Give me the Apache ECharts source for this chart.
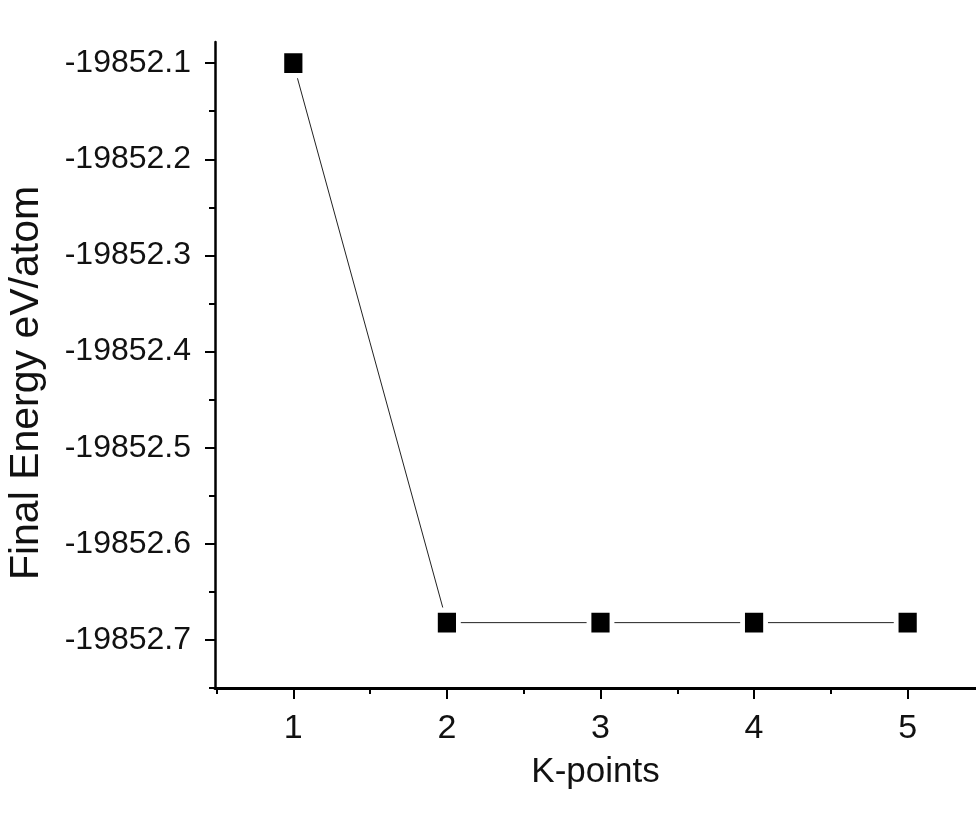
<!DOCTYPE html>
<html>
<head>
<meta charset="utf-8">
<script src="https://cdn.jsdelivr.net/npm/echarts@6/dist/echarts.min.js"></script>
<style>html,body{margin:0;padding:0;background:#fff}#c{width:976px;height:814px}</style>
</head>
<body>
<div id="c"></div>
<script>
var kPoints = [1, 2, 3, 4, 5];
var finalEnergy = [-19852.1, -19852.682, -19852.682, -19852.682, -19852.682];
var yTickValues = [-19852.7, -19852.6, -19852.5, -19852.4, -19852.3, -19852.2, -19852.1];
var yMinorValues = [-19852.75, -19852.65, -19852.55, -19852.45, -19852.35, -19852.25, -19852.15];
var xTickValues = [1, 2, 3, 4, 5];
var xMinorValues = [0.5, 1.5, 2.5, 3.5, 4.5];

var REG = '"Liberation Sans", Arial, sans-serif';
var yMin = -19852.75, yMax = -19852.078, xMin = 0.49, xMax = 5.445;

var chart = echarts.init(document.getElementById('c'));
chart.setOption({
  backgroundColor: '#fff',
  animation: false,
  grid: {left: 215, right: 0, top: 42, bottom: 126, containLabel: false, outerBoundsMode: 'none'},
  xAxis: [{
    type: 'value', min: xMin, max: xMax, position: 'bottom',
    name: 'K-points', nameLocation: 'middle', nameGap: 67,
    nameTextStyle: {fontFamily: REG, fontSize: 35, color: '#111'},
    axisLine: {show: true, onZero: false, lineStyle: {color: '#000', width: 3}},
    axisTick: {show: true, inside: false, length: 11, customValues: xTickValues, lineStyle: {color: '#000', width: 2}},
    axisLabel: {show: true, margin: 24, customValues: xTickValues, fontFamily: REG, fontSize: 34, color: '#111',
      formatter: function (v) { return String(Math.round(v)); }},
    splitLine: {show: false}
  }, {
    type: 'value', min: xMin, max: xMax, position: 'bottom',
    axisLine: {show: false, onZero: false},
    axisTick: {show: true, inside: false, length: 6, customValues: xMinorValues, lineStyle: {color: '#000', width: 2}},
    axisLabel: {show: false},
    splitLine: {show: false}
  }],
  yAxis: [{
    type: 'value', min: yMin, max: yMax, position: 'left', scale: true,
    name: 'Final Energy eV/atom', nameLocation: 'middle', nameGap: 168, nameRotate: 90,
    nameTextStyle: {fontFamily: REG, fontSize: 41, color: '#111', padding: [0, 36, 0, 0]},
    axisLine: {show: true, onZero: false, lineStyle: {color: '#000', width: 2.5}},
    axisTick: {show: true, inside: false, length: 10, customValues: yTickValues, lineStyle: {color: '#000', width: 2}},
    axisLabel: {show: true, margin: 24, customValues: yTickValues, fontFamily: REG, fontSize: 32, color: '#111',
      formatter: function (v) { return v.toFixed(1); }},
    splitLine: {show: false}
  }, {
    type: 'value', min: yMin, max: yMax, position: 'left', scale: true,
    axisLine: {show: false, onZero: false},
    axisTick: {show: true, inside: false, length: 6, customValues: yMinorValues, lineStyle: {color: '#000', width: 2}},
    axisLabel: {show: false},
    splitLine: {show: false}
  }],
  series: [{
    type: 'line',
    data: kPoints.map(function (k, i) { return [k, finalEnergy[i]]; }),
    symbol: 'rect', symbolSize: [23, 25],
    lineStyle: {color: '#222', width: 1},
    itemStyle: {color: '#000', borderColor: '#fff', borderWidth: 5},
    clip: false
  }]
});
</script>
</body>
</html>
